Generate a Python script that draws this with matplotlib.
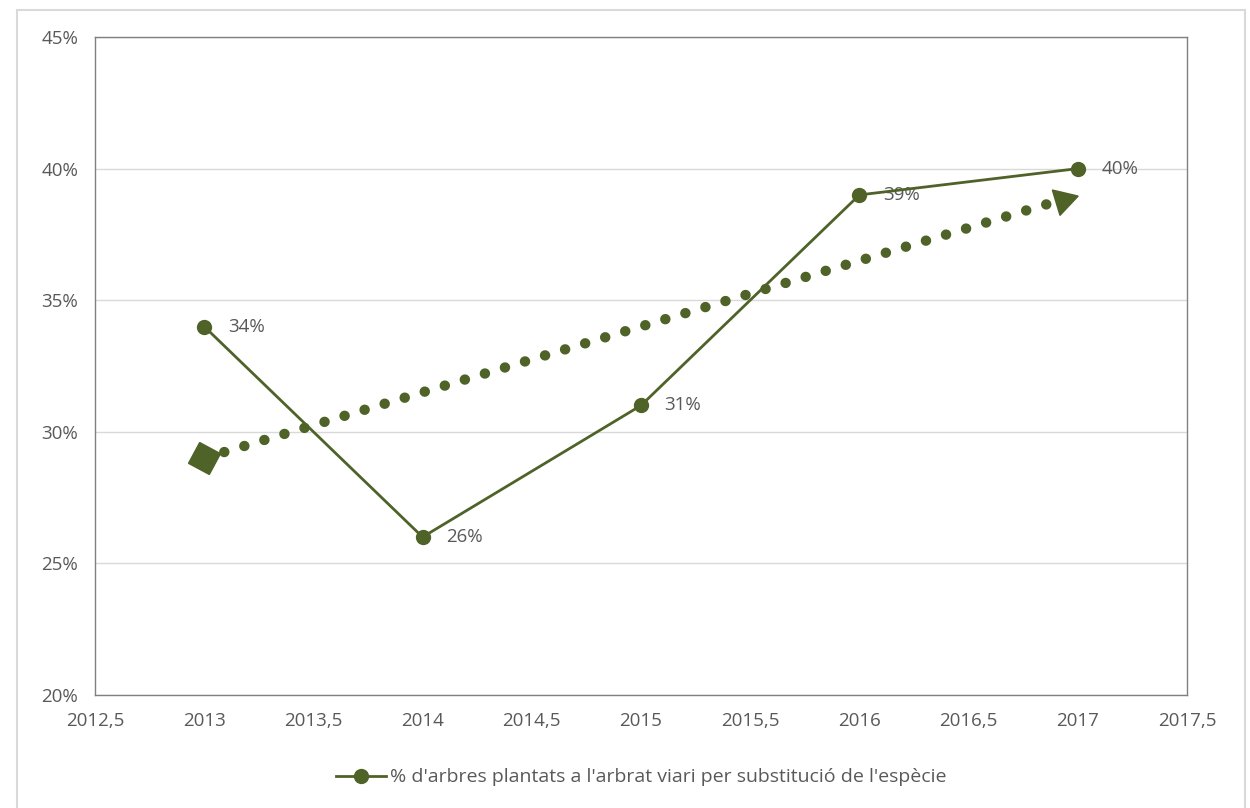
import numpy as np
import matplotlib
matplotlib.use('Agg')
import matplotlib.pyplot as plt
from matplotlib.patches import Rectangle

# Dades
anys = [2013, 2014, 2015, 2016, 2017]
percentatges = [0.34, 0.26, 0.31, 0.39, 0.40]
etiquetes = ['34%', '26%', '31%', '39%', '40%']
nom_serie = "% d'arbres plantats a l'arbrat viari per substitució de l'espècie"

color = '#4F6228'
gris = '#595959'

plt.rcParams['font.family'] = ['Open Sans', 'DejaVu Sans']

fig = plt.figure(figsize=(12.5, 8.08), dpi=100)
ax = fig.add_axes([0.076, 0.1399, 0.8736, 0.8143])

# Vora exterior del gràfic
fig.patches.append(Rectangle((17 / 1250, -0.01), (1245 - 17) / 1250, 1 - 10 / 808 + 0.01,
                             transform=fig.transFigure, fill=False,
                             edgecolor='#D9D9D9', linewidth=1.5))

ax.set_xlim(2012.5, 2017.5)
ax.set_ylim(0.20, 0.45)
ax.set_xticks(np.arange(2012.5, 2017.6, 0.5))
ax.set_xticklabels([('%g' % v).replace('.', ',') for v in np.arange(2012.5, 2017.6, 0.5)])
ax.set_yticks(np.arange(0.20, 0.451, 0.05))
ax.set_yticklabels(['%d%%' % round(v * 100) for v in np.arange(0.20, 0.451, 0.05)])
ax.tick_params(length=0, labelsize=13.5, colors=gris, pad=12)
ax.grid(axis='y', color='#D9D9D9', linewidth=1)
ax.set_axisbelow(True)
for s in ax.spines.values():
    s.set_color('#808080')
    s.set_linewidth(1)

# Línia de tendència lineal
pend, orig = np.polyfit(anys, percentatges, 1)
tx = np.array([anys[0], anys[-1]])
ty = pend * tx + orig
ax.plot(tx, ty, linestyle=(0, (0.01, 2.0)), dash_capstyle='round', color=color,
        linewidth=7.5, zorder=2)
fig.canvas.draw()
p0 = ax.transData.transform((tx[0], ty[0]))
p1 = ax.transData.transform((tx[1], ty[1]))
angle = np.degrees(np.arctan2(p1[1] - p0[1], p1[0] - p0[0]))
ax.plot(tx[0], ty[0], marker=(4, 0, angle), markersize=24, color=color,
        linestyle='none', zorder=3)
ax.plot(tx[1] - 0.07, pend * (tx[1] - 0.07) + orig, marker=(3, 0, angle - 90),
        markersize=22, color=color, linestyle='none', zorder=3)

# Sèrie principal
ax.plot(anys, percentatges, color=color, linewidth=2, marker='o', markersize=10,
        label=nom_serie, zorder=4)
for x, y, t in zip(anys, percentatges, etiquetes):
    ax.annotate(t, (x, y), xytext=(17, 0), textcoords='offset points', va='center',
                fontsize=13.5, color=gris)

leg = ax.legend(loc='upper center', bbox_to_anchor=(0.5, -0.085), frameon=False,
                fontsize=14, handlelength=2.6, handletextpad=0.2)
for t in leg.get_texts():
    t.set_color(gris)

fig.savefig('out.png', dpi=100)
